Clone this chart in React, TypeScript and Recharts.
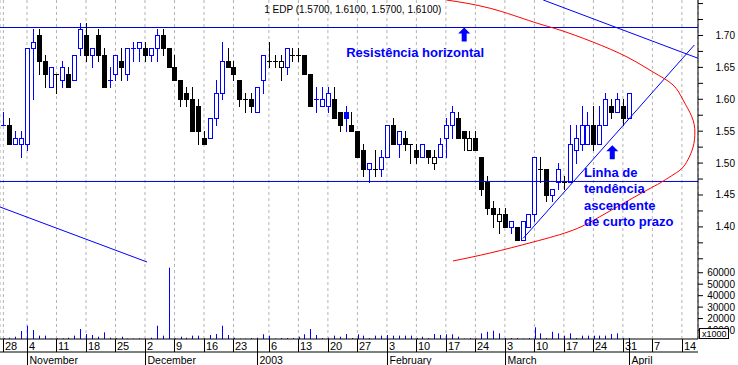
import React from 'react';
import {
  ComposedChart,
  Bar,
  Line,
  XAxis,
  YAxis,
  CartesianGrid,
  ReferenceLine,
  ReferenceDot,
} from 'recharts';

const FONT = '"Liberation Sans", Arial, Helvetica, sans-serif';
const BLUE = '#0000ff';
const LINE_BLUE = '#0000d8';
const RED = '#ff0000';
const GRID = '#b4b4b4';

// one entry per session, 28 Oct 2002 .. 1 Apr 2003
const OPEN = [
  1.56, 1.56, 1.53, 1.53, 1.53, 1.68, 1.70, 1.66, 1.62, 1.64,
  1.63, 1.64, 1.63, 1.68, 1.70, 1.67, 1.70, 1.67, 1.63, 1.64,
  1.66, 1.64, 1.68, 1.68, 1.68, 1.67, 1.68, 1.70, 1.68, 1.65,
  1.63, 1.61, 1.60, 1.59, 1.54, 1.54, 1.57, 1.61, 1.66, 1.65,
  1.63, 1.60, 1.60, 1.58, 1.63, 1.66, 1.66, 1.65, 1.65, 1.67,
  1.67, 1.67, 1.64, 1.60, 1.59, 1.59, 1.60, 1.58, 1.58, 1.56,
  1.55, 1.52, 1.49, 1.49, 1.49, 1.51, 1.56, 1.53, 1.54, 1.53,
  1.52, 1.51, 1.52, 1.50, 1.51, 1.54, 1.56, 1.57, 1.55, 1.52,
  1.54, 1.51, 1.47, 1.43, 1.41, 1.42, 1.40, 1.40, 1.38, 1.40,
  1.42, 1.49, 1.49, 1.45, 1.47, 1.47, 1.47, 1.52, 1.53, 1.53,
  1.56, 1.53, 1.56, 1.59, 1.58, 1.59, 1.57,
];
const HIGH = [
  1.58, 1.57, 1.55, 1.55, 1.68, 1.71, 1.71, 1.67, 1.65, 1.64,
  1.66, 1.65, 1.67, 1.72, 1.72, 1.68, 1.71, 1.68, 1.65, 1.67,
  1.68, 1.68, 1.69, 1.69, 1.69, 1.68, 1.71, 1.71, 1.68, 1.67,
  1.63, 1.62, 1.62, 1.60, 1.55, 1.57, 1.63, 1.69, 1.68, 1.66,
  1.63, 1.61, 1.61, 1.62, 1.67, 1.69, 1.67, 1.67, 1.68, 1.68,
  1.68, 1.67, 1.64, 1.62, 1.62, 1.62, 1.62, 1.58, 1.59, 1.58,
  1.55, 1.53, 1.50, 1.52, 1.52, 1.56, 1.57, 1.55, 1.55, 1.53,
  1.53, 1.53, 1.52, 1.52, 1.54, 1.57, 1.59, 1.58, 1.55, 1.55,
  1.55, 1.51, 1.48, 1.44, 1.43, 1.43, 1.41, 1.40, 1.41, 1.42,
  1.51, 1.51, 1.49, 1.46, 1.50, 1.48, 1.56, 1.56, 1.59, 1.58,
  1.59, 1.59, 1.61, 1.60, 1.61, 1.60, 1.61,
];
const LOW = [
  1.56, 1.53, 1.53, 1.51, 1.52, 1.60, 1.64, 1.62, 1.62, 1.61,
  1.62, 1.62, 1.63, 1.67, 1.66, 1.65, 1.66, 1.62, 1.62, 1.63,
  1.63, 1.63, 1.66, 1.66, 1.66, 1.66, 1.66, 1.67, 1.65, 1.63,
  1.59, 1.59, 1.55, 1.53, 1.53, 1.54, 1.56, 1.60, 1.65, 1.63,
  1.59, 1.58, 1.58, 1.58, 1.61, 1.65, 1.65, 1.63, 1.64, 1.66,
  1.66, 1.64, 1.59, 1.58, 1.59, 1.58, 1.57, 1.55, 1.55, 1.55,
  1.51, 1.48, 1.47, 1.48, 1.48, 1.51, 1.53, 1.51, 1.52, 1.50,
  1.50, 1.51, 1.50, 1.49, 1.51, 1.51, 1.54, 1.54, 1.52, 1.52,
  1.52, 1.45, 1.42, 1.40, 1.39, 1.40, 1.39, 1.38, 1.38, 1.40,
  1.41, 1.47, 1.44, 1.44, 1.46, 1.46, 1.47, 1.50, 1.52, 1.53,
  1.52, 1.53, 1.56, 1.57, 1.58, 1.56, 1.57,
];
const CLOSE = [
  1.56, 1.53, 1.54, 1.54, 1.68, 1.69, 1.66, 1.64, 1.65, 1.64,
  1.65, 1.62, 1.67, 1.71, 1.67, 1.68, 1.67, 1.62, 1.63, 1.67,
  1.65, 1.68, 1.68, 1.69, 1.67, 1.68, 1.70, 1.68, 1.65, 1.63,
  1.60, 1.60, 1.55, 1.55, 1.53, 1.57, 1.61, 1.66, 1.65, 1.64,
  1.60, 1.60, 1.59, 1.62, 1.67, 1.66, 1.66, 1.66, 1.68, 1.67,
  1.67, 1.64, 1.59, 1.60, 1.60, 1.61, 1.57, 1.56, 1.57, 1.55,
  1.51, 1.49, 1.50, 1.49, 1.51, 1.56, 1.53, 1.55, 1.53, 1.53,
  1.51, 1.53, 1.51, 1.51, 1.53, 1.56, 1.58, 1.54, 1.54, 1.54,
  1.52, 1.46, 1.43, 1.42, 1.42, 1.40, 1.41, 1.38, 1.41, 1.42,
  1.51, 1.49, 1.45, 1.46, 1.49, 1.47, 1.53, 1.54, 1.56, 1.56,
  1.53, 1.56, 1.60, 1.58, 1.60, 1.57, 1.61,
];
const VOLUME = [
  2800, 3300, 4200, 9200, 13800, 10000, 5100, 5100, 2500, 2800,
  2800, 3300, 5100, 10900, 6500, 5700, 4200, 8000, 3300, 2800,
  4200, 2500, 2500, 2800, 2500, 3300, 13800, 5100, 64400, 2800,
  4200, 3300, 5100, 5100, 2800, 5700, 6500, 13800, 5700, 3300,
  2500, 2500, 3000, 3300, 6300, 5100, 2500, 3000, 3000, 3000,
  4200, 6300, 10900, 5700, 3000, 3300, 5100, 4200, 6500, 3000,
  6300, 5100, 3000, 5100, 5100, 5700, 5100, 5100, 5100, 5100,
  3000, 4200, 3000, 6500, 5700, 6300, 6300, 4200, 2500, 3000,
  2500, 7100, 8500, 9400, 7100, 3000, 3000, 3000, 2500, 3000,
  12400, 7100, 3000, 8500, 7100, 5100, 7100, 3000, 5100, 5100,
  5100, 5100, 5100, 6500, 7100, 3000, 3000,
];

// first session of each week (session index) and its day of month
const WEEK_IDX = [0, 4, 9, 14, 19, 24, 29, 34, 39, 45, 50, 55, 60, 65, 70, 75, 80, 85, 90, 95, 100, 105, 110, 115];
const WEEK_LABELS = ['28', '4', '11', '18', '25', '2', '9', '16', '23', '6', '13', '20', '27', '3', '10', '17', '24', '3', '10', '17', '24', '31', '7', '14'];
const MONTH_IDX = [4, 24, 43, 65, 85, 106];
const MONTH_LABELS = ['November', 'December', '2003', 'February', 'March', 'April'];

const PRICE_TICKS = [1.35, 1.375, 1.4, 1.425, 1.45, 1.475, 1.5, 1.525, 1.55, 1.575, 1.6, 1.625, 1.65, 1.675, 1.7, 1.725, 1.75];
const PRICE_LABELS = [1.4, 1.45, 1.5, 1.55, 1.6, 1.65, 1.7];
const VOLUME_TICKS = [10000, 20000, 30000, 40000, 50000, 60000];

// drawn objects (session index, price)
const RESISTANCE = 1.7125;
const SUPPORT = 1.4712;
const TREND = [{ x: 88.1, y: 1.382 }, { x: 117.1, y: 1.685 }];
const CHANNEL_TOP = [{ x: 91.5, y: 1.7556 }, { x: 117.73, y: 1.6643 }];
const CHANNEL_LOW = [{ x: -0.576, y: 1.4312 }, { x: 24.34, y: 1.345 }];
const ARC_IDX = [75.1, 82.5, 89.8, 94.3, 99.9, 105.7, 110.1, 113.5, 115.2, 116.7, 117.2, 116.9, 116.0, 114.9, 113.2, 111.3, 109.1, 105.1, 101.1, 96.6, 89.8, 82.5, 76.2];
const ARC_PRICE = [1.7556, 1.7426, 1.7212, 1.7086, 1.6898, 1.6663, 1.6428, 1.6224, 1.5989, 1.5723, 1.5487, 1.5252, 1.5049, 1.4908, 1.4798, 1.4688, 1.4578, 1.437, 1.416, 1.3951, 1.3763, 1.3591, 1.3466];

const X_DOMAIN = [-0.576, 117.73];
const PRICE_DOMAIN = [1.2243, 1.7556];
const VOLUME_DOMAIN = [2182, 297994];

const ROWS: any[] = [];
let lastColor = BLUE;
CLOSE.forEach((c, i) => {
  if (i > 0 && c > CLOSE[i - 1]) lastColor = BLUE;
  if (i > 0 && c < CLOSE[i - 1]) lastColor = '#000000';
  ROWS.push({ i, o: OPEN[i], h: HIGH[i], l: LOW[i], c, range: [LOW[i], HIGH[i]], vol: VOLUME[i], color: lastColor });
});
const ARC = ARC_IDX.map((x, k) => ({ i: x, p: ARC_PRICE[k] }));
const LAST = ROWS[ROWS.length - 1];
const TITLE = `1 EDP (${LAST.o.toFixed(4)}, ${LAST.h.toFixed(4)}, ${LAST.l.toFixed(4)}, ${LAST.c.toFixed(4)})`;

const Candle = (props: any) => {
  const { x, y, width, height, payload } = props;
  if (!payload) return null;
  const { o, h, l, c, color } = payload;
  const top = Math.min(y, y + height);
  const bot = Math.max(y, y + height);
  const k = h > l ? (bot - top) / (h - l) : 0;
  const py = (p: number) => Math.round(top + (h - p) * k);
  const cx = Math.round(x + width / 2);
  const yo = py(o);
  const yc = py(c);
  const bt = Math.min(yo, yc);
  const bb = Math.max(yo, yc);
  const wick = <line x1={cx + 0.5} x2={cx + 0.5} y1={py(h)} y2={py(l) + 1} stroke={color} />;
  if (o === c) {
    return (
      <g>
        {wick}
        <line x1={cx - 2} x2={cx + 3} y1={yo + 0.5} y2={yo + 0.5} stroke={color} />
      </g>
    );
  }
  if (c < o) {
    return (
      <g>
        {wick}
        <rect x={cx - 2} y={bt} width={5} height={bb - bt + 1} fill={color} />
      </g>
    );
  }
  return (
    <g>
      {wick}
      <rect x={cx - 1.5} y={bt + 0.5} width={4} height={bb - bt} fill="#ffffff" stroke={color} />
    </g>
  );
};

const VolBar = (props: any) => {
  const { x, y, width, height } = props;
  const cx = Math.round(x + width / 2);
  return <rect x={cx} y={y} width={1} height={Math.abs(height)} fill={BLUE} />;
};

const DayTick = (props: any) => {
  const { x, y, payload } = props;
  const lx = Math.round(x) + 0.5;
  return (
    <g>
      <line x1={lx} x2={lx} y1={y} y2={y + 13} stroke="#000" />
      <text x={lx + 1.5} y={y + 11} fontSize={11} fontFamily={FONT} fill="#000">
        {WEEK_LABELS[WEEK_IDX.indexOf(payload.value)]}
      </text>
    </g>
  );
};

const MonthTick = (props: any) => {
  const { x, y, payload } = props;
  const lx = Math.round(x) + 0.5;
  return (
    <g>
      <line x1={lx} x2={lx} y1={y - 13} y2={y + 13} stroke="#000" />
      <text x={lx + 2} y={y + 12} fontSize={10.5} fontFamily={FONT} fill="#000">
        {MONTH_LABELS[MONTH_IDX.indexOf(payload.value)]}
      </text>
    </g>
  );
};

const PriceTick = (props: any) => {
  const { x, y, payload } = props;
  const v = payload.value;
  if (!PRICE_LABELS.some((p) => Math.abs(p - v) < 1e-6)) return <g />;
  return (
    <text x={x + 32} y={y} dy={3.5} textAnchor="end" fontSize={10} fontFamily={FONT} fill="#000">
      {v.toFixed(2)}
    </text>
  );
};

const VolTick = ({ viewBox, value }: any) => {
  const xr = Math.round(viewBox.x + viewBox.width);
  const y = viewBox.y;
  return (
    <g>
      <line x1={xr} x2={xr + 5} y1={y} y2={y} stroke="#000" />
      <text x={xr + 37} y={y} dy={3.5} textAnchor="end" fontSize={10} fontFamily={FONT} fill="#000">
        {value}
      </text>
      {value === 10000 && (
        <g>
          <rect x={xr + 1.5} y={y - 1.5} width={29} height={10} fill="#ffffff" stroke="#000" />
          <text x={xr + 4} y={y + 7} fontSize={9} fontFamily={FONT} fill="#000">x1000</text>
        </g>
      )}
    </g>
  );
};

const Arrow = ({ cx, cy }: any) => (
  <path
    d={`M${cx} ${cy} L${cx + 6} ${cy + 6} L${cx + 2.5} ${cy + 6} L${cx + 2.5} ${cy + 14} L${cx - 2.5} ${cy + 14} L${cx - 2.5} ${cy + 6} L${cx - 6} ${cy + 6} Z`}
    fill={BLUE}
  />
);

const Note = ({ cx, cy, lines, bold, size, color }: any) => (
  <text x={cx} y={cy} fontFamily={FONT} fontWeight={bold ? 'bold' : 'normal'} fontSize={size} fill={color}>
    {lines.map((t: string, k: number) => (
      <tspan key={k} x={cx} dy={k === 0 ? 0 : 16.2}>
        {t}
      </tspan>
    ))}
  </text>
);

export default function App() {
  return (
    <div style={{ position: 'absolute', left: 0, top: 0, width: 738, height: 365, background: '#ffffff' }}>
      <ComposedChart width={738} height={365} data={ROWS} margin={{ top: 0, right: 0, bottom: 0, left: 0 }}>
        <XAxis
          xAxisId="d"
          type="number"
          dataKey="i"
          domain={X_DOMAIN}
          allowDataOverflow
          ticks={WEEK_IDX}
          interval={0}
          height={13}
          tickSize={0}
          tickMargin={0}
          tickLine={false}
          tick={<DayTick />}
          axisLine={{ stroke: '#000' }}
        />
        <XAxis
          xAxisId="m"
          type="number"
          dataKey="i"
          domain={X_DOMAIN}
          allowDataOverflow
          ticks={MONTH_IDX}
          interval={0}
          height={13}
          tickSize={0}
          tickMargin={0}
          tickLine={false}
          tick={<MonthTick />}
          axisLine={{ stroke: '#000' }}
        />
        <XAxis xAxisId="v" type="number" dataKey="i" domain={X_DOMAIN} allowDataOverflow hide />
        <YAxis
          yAxisId="p"
          orientation="right"
          width={40}
          domain={PRICE_DOMAIN}
          allowDataOverflow
          ticks={PRICE_TICKS}
          interval={0}
          tickSize={5}
          tickMargin={0}
          tick={<PriceTick />}
          tickLine={{ stroke: '#000' }}
          axisLine={{ stroke: '#000' }}
        />
        <YAxis yAxisId="v" hide domain={VOLUME_DOMAIN} allowDataOverflow />
        <CartesianGrid xAxisId="d" yAxisId="p" horizontal={false} strokeDasharray="3 3" stroke={GRID} />

        <Bar xAxisId="v" yAxisId="v" dataKey="vol" shape={<VolBar />} isAnimationActive={false} />
        <Bar xAxisId="d" yAxisId="p" dataKey="range" shape={<Candle />} isAnimationActive={false} />

        <ReferenceLine xAxisId="d" yAxisId="p" y={RESISTANCE} stroke={LINE_BLUE} ifOverflow="hidden" />
        <ReferenceLine xAxisId="d" yAxisId="p" y={SUPPORT} stroke={LINE_BLUE} ifOverflow="hidden" />
        <ReferenceLine xAxisId="d" yAxisId="p" segment={TREND} stroke={BLUE} ifOverflow="hidden" />
        <ReferenceLine xAxisId="d" yAxisId="p" segment={CHANNEL_TOP} stroke={BLUE} ifOverflow="hidden" />
        <ReferenceLine xAxisId="d" yAxisId="p" segment={CHANNEL_LOW} stroke={BLUE} ifOverflow="hidden" />
        <Line
          xAxisId="d"
          yAxisId="p"
          data={ARC}
          dataKey="p"
          type="natural"
          stroke={RED}
          strokeWidth={1}
          dot={false}
          activeDot={false}
          isAnimationActive={false}
        />

        {VOLUME_TICKS.map((v) => (
          <ReferenceLine
            key={v}
            xAxisId="d"
            yAxisId="v"
            y={v}
            stroke="none"
            label={{ content: (p: any) => <VolTick viewBox={p.viewBox} value={v} /> }}
          />
        ))}

        <ReferenceDot xAxisId="d" yAxisId="p" x={44.2} y={1.7353} r={0}
          shape={(p: any) => <Note cx={p.cx} cy={p.cy} lines={[TITLE]} size={10} color="#000" />} />
        <ReferenceDot xAxisId="d" yAxisId="p" x={58.1} y={1.6658} r={0}
          shape={(p: any) => <Note cx={p.cx} cy={p.cy} lines={['Resistência horizontal']} bold size={13} color={BLUE} />} />
        <ReferenceDot xAxisId="d" yAxisId="p" x={78.1} y={RESISTANCE} r={0}
          shape={(p: any) => <Arrow cx={p.cx} cy={p.cy} />} />
        <ReferenceDot xAxisId="d" yAxisId="p" x={98.4} y={1.478} r={0}
          shape={(p: any) => (
            <Note cx={p.cx} cy={p.cy} lines={['Linha de', 'tendência', 'ascendente', 'de curto prazo']} bold size={13} color={BLUE} />
          )} />
        <ReferenceDot xAxisId="d" yAxisId="p" x={103.2} y={1.528} r={0}
          shape={(p: any) => <Arrow cx={p.cx} cy={p.cy} />} />
      </ComposedChart>
    </div>
  );
}
